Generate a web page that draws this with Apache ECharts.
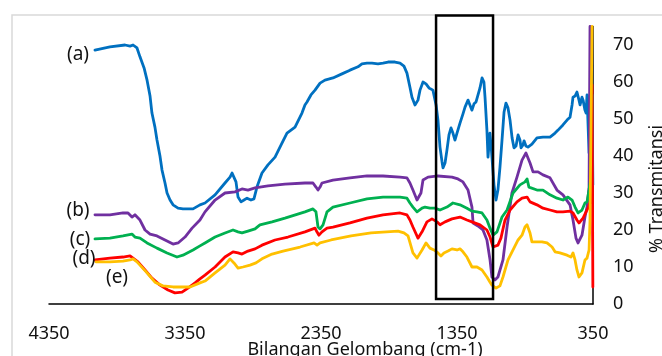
<!DOCTYPE html>
<html>
<head>
<meta charset="utf-8">
<script src="https://cdn.jsdelivr.net/npm/echarts@6/dist/echarts.min.js"></script>
<style>html,body{margin:0;padding:0;background:#fff;}#c{width:662px;height:356px;}</style>
</head>
<body>
<div id="c"></div>
<script>
// ---- Data (wavenumber cm-1, % transmittance) ----
const aWn = [4012,3902,3791,3754,3732,3703,3681,3651,3629,3607,3593,3571,3556,3534,3519,3497,3482,3460,3438,3401,3365,3291,3240,3203,3129,3056,3019,3004,2990,2975,2960,2938,2916,2894,2865,2843,2821,2784,2740,2688,2637,2600,2541,2490,2468,2453,2424,2394,2357,2321,2262,2196,2137,2078,2049,2012,1975,1931,1894,1857,1806,1769,1740,1718,1696,1681,1659,1637,1622,1600,1578,1556,1527,1504,1490,1475,1460,1453,1438,1424,1409,1394,1380,1365,1350,1328,1306,1291,1269,1255,1240,1225,1210,1196,1181,1166,1152,1144,1130,1122,1115,1108,1100,1093,1078,1063,1049,1034,1019,1004,990,975,960,945,931,916,901,887,879,865,857,843,828,799,762,718,666,629,607,571,541,519,504,497,482,468,453,445,431,423,409,401,394,379,372,365,357,351];
const aT = [68.6,69.5,70.0,69.7,70.0,69.2,66.8,63.8,60.5,56.2,51.6,47.8,44.3,40.0,36.2,32.7,30.0,28.1,26.8,25.9,25.7,25.7,26.8,27.3,29.5,32.7,34.3,35.4,34.9,33.0,28.9,27.6,28.1,28.6,28.1,28.4,31.6,35.4,37.6,39.7,43.5,46.2,47.8,51.6,53.8,54.6,56.5,57.8,59.7,60.5,61.1,62.2,63.2,64.1,64.9,65.1,65.1,64.9,65.1,65.4,65.4,65.1,64.3,62.4,58.6,55.9,53.8,55.1,57.8,60.0,59.5,58.4,57.8,53.8,49.7,42.4,38.4,36.8,38.1,41.6,45.7,47.6,46.2,44.3,46.2,48.9,51.4,53.2,55.1,53.8,52.4,54.1,54.6,55.1,58.4,61.1,60.0,55.9,47.0,39.7,43.0,46.2,43.0,39.7,32.2,28.1,30.8,37.0,44.3,51.9,54.3,53.0,49.7,44.9,42.2,42.7,45.7,44.3,42.2,43.0,44.1,42.7,42.4,43.2,44.9,45.1,45.1,46.2,47.0,48.4,49.7,50.5,53.8,55.9,56.2,57.3,55.1,53.8,55.9,55.1,52.4,51.6,56.5,40.8,56.5,32.2,56.5,32.2];

const bWn = [4012,3902,3806,3769,3740,3718,3681,3644,3607,3556,3497,3438,3401,3350,3298,3240,3203,3129,3056,2982,2931,2887,2835,2740,2615,2468,2409,2387,2372,2357,2343,2262,2137,2012,1894,1769,1718,1696,1674,1644,1615,1600,1563,1490,1387,1343,1306,1269,1240,1232,1196,1159,1130,1107,1093,1071,1049,1012,982,946,909,872,843,813,791,754,718,666,615,571,519,497,475,460,431,409,394,379,372];
const bT = [24.1,24.1,24.6,24.6,23.5,24.1,22.7,20.0,18.9,18.4,17.3,16.2,16.5,18.1,20.5,22.7,24.9,28.1,30.0,30.3,31.1,30.8,31.4,31.9,32.4,32.7,32.7,31.6,30.8,31.6,32.7,33.5,34.1,34.6,34.6,34.3,34.1,32.7,30.8,28.1,30.0,33.5,34.3,34.6,34.3,33.8,33.0,30.8,26.2,21.9,21.1,20.0,17.3,11.9,7.3,6.5,7.3,11.9,20.8,30.0,34.3,38.9,40.8,38.1,35.7,35.7,34.9,34.1,30.8,29.5,26.8,22.7,17.8,16.5,18.6,23.5,26.2,31.6,75];

const cWn = [4012,3902,3806,3740,3718,3681,3629,3556,3482,3409,3365,3291,3240,3203,3129,3056,2997,2960,2931,2887,2835,2799,2710,2615,2468,2409,2387,2372,2357,2335,2306,2262,2137,2012,1894,1769,1718,1696,1674,1644,1607,1585,1549,1512,1475,1424,1380,1328,1277,1240,1203,1166,1130,1107,1085,1056,1019,982,938,887,850,835,821,762,718,666,615,571,534,504,482,460,431,409,394,379,365,357];
const cT = [17.6,17.8,18.4,18.9,18.1,17.8,16.5,15.1,13.8,12.7,13.2,14.6,15.7,16.5,18.1,19.2,20.0,19.5,19.2,19.7,20.3,21.4,22.2,23.2,24.9,25.7,24.9,20.8,20.3,21.4,24.9,26.2,27.3,28.4,28.9,28.9,28.6,27.3,26.2,24.9,25.9,26.2,25.9,25.9,25.4,26.2,27.3,26.8,25.9,25.1,24.9,24.6,22.7,20.5,18.6,19.5,23.5,25.4,30.0,32.2,33.0,33.8,31.6,30.8,30.8,29.5,28.6,28.1,28.9,28.1,26.2,24.6,25.4,27.3,27.6,30.8,34.3,56.5];

const dWn = [4012,3902,3806,3754,3732,3696,3644,3593,3534,3475,3424,3372,3328,3276,3240,3203,3129,3056,2997,2960,2931,2887,2835,2784,2688,2593,2468,2394,2380,2365,2343,2306,2262,2137,2012,1894,1769,1718,1696,1674,1637,1607,1571,1534,1497,1475,1438,1387,1328,1277,1240,1181,1130,1107,1085,1049,1027,997,960,909,872,835,813,762,718,666,615,571,519,497,468,453,423,401,387,365,357,351];
const dT = [11.9,12.4,12.7,13.0,12.4,11.4,9.2,7.0,5.1,3.8,3.0,3.2,4.3,5.7,6.8,7.8,10.0,12.7,14.1,13.8,13.5,14.3,14.9,15.9,17.3,18.1,19.5,20.5,19.5,18.6,19.5,20.5,20.8,21.9,23.2,24.1,24.6,24.1,22.7,20.8,17.8,19.5,22.2,23.0,22.2,21.4,22.2,23.0,23.5,22.7,22.2,21.4,20.0,18.1,15.4,15.9,17.8,22.7,25.4,27.6,28.6,28.9,27.6,26.8,25.9,25.4,24.9,24.9,25.1,24.6,22.7,21.9,23.2,24.9,25.9,28.1,59.2,4.6];

const eWn = [4005,3902,3806,3754,3732,3703,3681,3629,3571,3512,3438,3365,3313,3240,3203,3129,3056,3019,2990,2960,2924,2872,2828,2784,2710,2629,2504,2401,2379,2357,2276,2129,1982,1784,1740,1710,1674,1644,1607,1578,1549,1519,1490,1468,1446,1416,1387,1350,1328,1306,1277,1240,1203,1166,1130,1107,1093,1063,1034,1012,975,938,901,872,850,835,813,799,762,725,688,651,629,593,541,512,497,482,468,453,431,423,409,394,379,372,357];
const eT = [11.4,11.4,11.6,11.9,12.2,11.4,10.5,8.4,5.9,4.9,4.6,4.6,4.6,5.7,6.2,8.4,10.5,12.2,11.1,9.7,10.0,10.5,11.1,12.2,13.5,14.3,15.4,16.5,15.9,16.5,17.3,18.4,19.2,19.7,19.2,18.4,13.8,12.4,14.6,16.5,15.1,14.6,13.8,13.0,13.8,14.3,14.9,14.6,14.9,14.1,12.7,10.0,10.0,9.2,7.3,5.9,5.1,4.3,4.9,7.3,11.9,14.6,17.3,18.6,20.8,21.4,19.2,16.8,16.8,16.8,16.5,15.4,14.1,13.8,13.2,12.7,13.8,11.9,9.2,7.3,8.4,9.7,11.9,12.4,14.6,22.7,75];

const seriesNames = ['(a)', '(b)', '(c)', '(d)', '(e)'];
const xTicks = [350, 1350, 2350, 3350, 4350];
const yTicks = [0, 10, 20, 30, 40, 50, 60, 70];
const boxWn = [1504, 1085];      // highlighted region (cm-1)
const boxT = [78, 1.35];         // highlighted region (% T)

// ---- Build chart ----
const colors = ['#0070C0', '#7030A0', '#00B050', '#FF0000', '#FFC000'];
const wnSets = [aWn, bWn, cWn, dWn, eWn];
const tSets = [aT, bT, cT, dT, eT];
const zip = (xs, ys) => xs.map((x, i) => [x, ys[i]]);
const FONT = 'Noto Sans';

const chart = echarts.init(document.getElementById('c'), null, {renderer: 'canvas'});
chart.setOption({
  animation: false,
  backgroundColor: '#ffffff',
  grid: {left: 49, right: 69, top: 26.5, bottom: 52, containLabel: false},
  xAxis: {
    type: 'value', inverse: true, min: 350, max: 4350,
    axisLine: {show: true, onZero: false, lineStyle: {color: '#000', width: 1.5}},
    axisTick: {show: false},
    splitLine: {show: false},
    axisLabel: {customValues: xTicks, formatter: v => String(v), color: '#111', fontSize: 18, fontFamily: FONT, margin: 21}
  },
  yAxis: {
    type: 'value', position: 'right', min: 0, max: 75,
    axisLine: {show: true, lineStyle: {color: '#000', width: 1.5}},
    axisTick: {show: false},
    splitLine: {show: false},
    axisLabel: {customValues: yTicks, color: '#111', fontSize: 18, fontFamily: FONT, margin: 20}
  },
  series: seriesNames.map((n, i) => ({
    name: n, type: 'line', data: zip(wnSets[i], tSets[i]),
    showSymbol: false, smooth: false, clip: true,
    lineStyle: {color: colors[i], width: 2.8, join: 'round', cap: 'round'},
    z: 2 + i
  }))
});

const p1 = chart.convertToPixel({gridIndex: 0}, [boxWn[0], boxT[0]]);
const p2 = chart.convertToPixel({gridIndex: 0}, [boxWn[1], boxT[1]]);
const labelPos = [[78, 55], [78, 211], [80, 240], [84, 259], [117, 278]];
chart.setOption({
  graphic: [
    {type: 'rect', shape: {x: 12, y: 15, width: 720, height: 420}, style: {fill: 'none', stroke: '#d9d9d9', lineWidth: 1.5}, z: 0},
    {type: 'rect', shape: {x: p1[0], y: p1[1], width: p2[0] - p1[0], height: p2[1] - p1[1]}, style: {fill: 'none', stroke: '#000', lineWidth: 2.5}, z: 50},
    ...seriesNames.map((n, i) => ({type: 'text', x: labelPos[i][0], y: labelPos[i][1],
      style: {text: n, fontSize: 19, fontFamily: FONT, fill: '#111', align: 'center', verticalAlign: 'middle'}, z: 60})),
    {type: 'text', x: 365, y: 350, style: {text: 'Bilangan Gelombang (cm-1)', fontSize: 18, fontFamily: FONT, fill: '#111', align: 'center', verticalAlign: 'middle'}, z: 60},
    {type: 'text', x: 657, y: 189, rotation: Math.PI / 2, style: {text: '% Transmitansi', fontSize: 18, fontFamily: FONT, fill: '#111', align: 'center', verticalAlign: 'middle'}, z: 60}
  ]
});
</script>
</body>
</html>
